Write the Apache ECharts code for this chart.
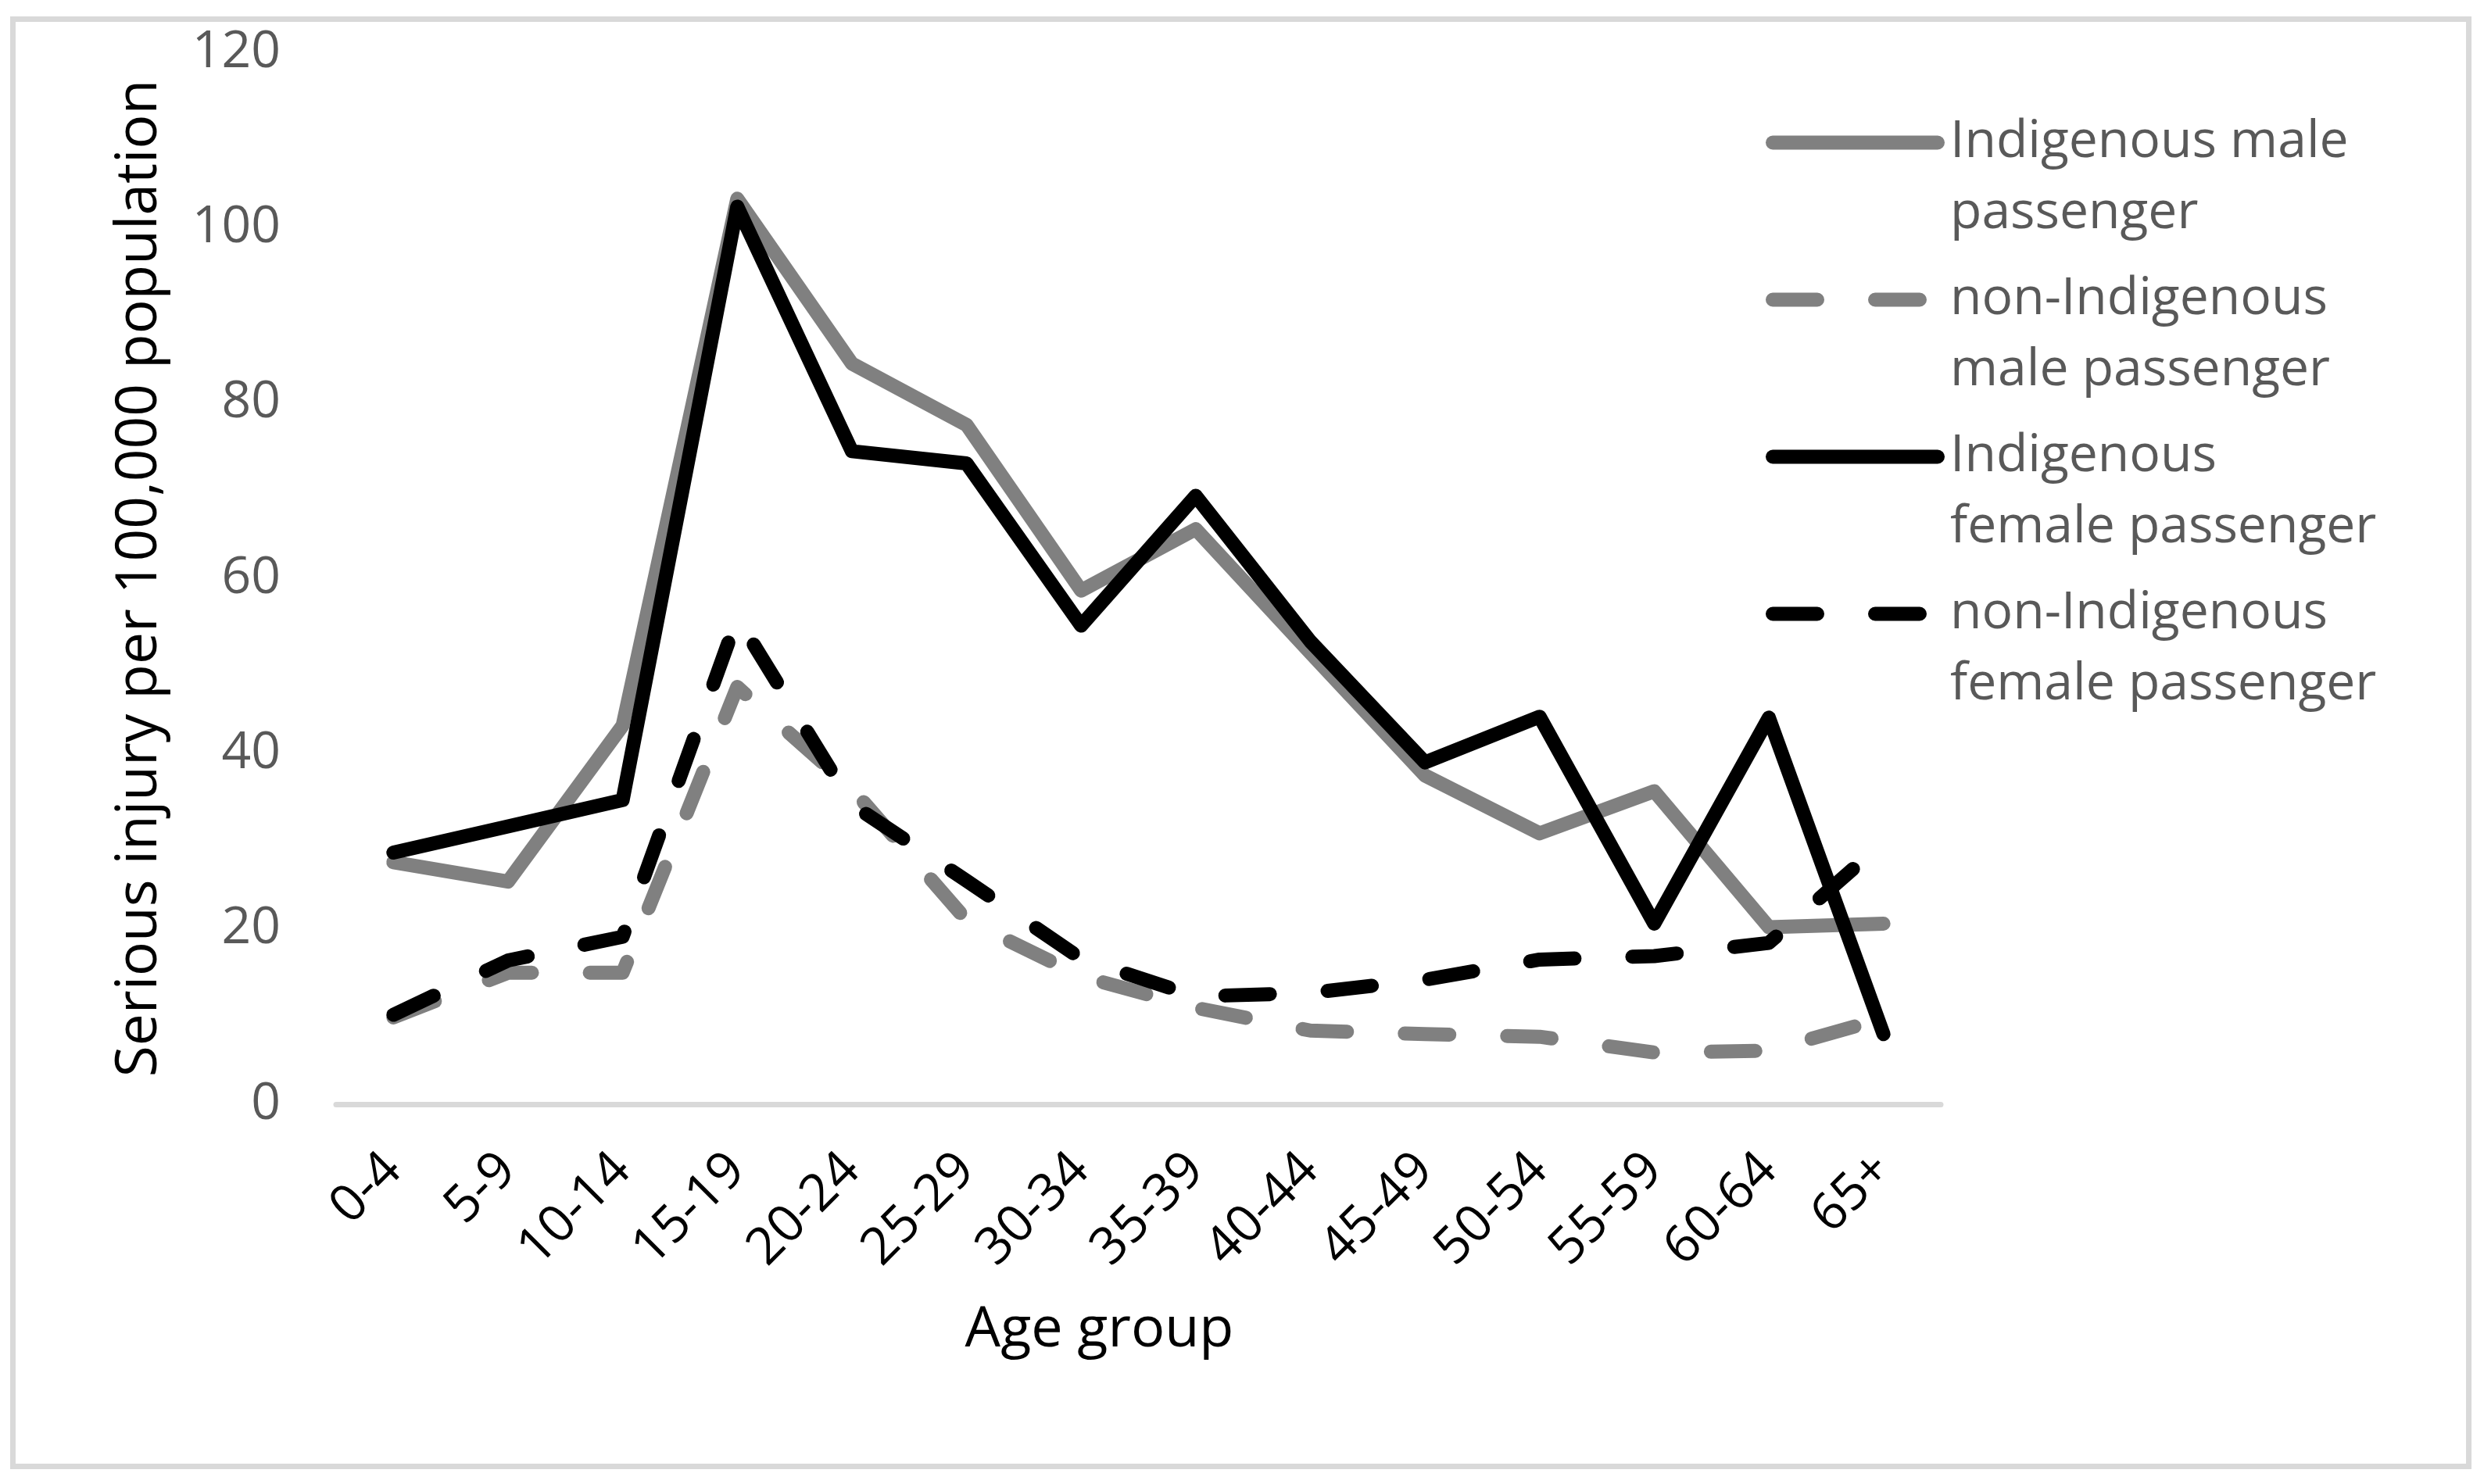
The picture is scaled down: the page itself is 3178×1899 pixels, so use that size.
<!DOCTYPE html>
<html>
<head>
<meta charset="utf-8">
<script src="https://cdn.jsdelivr.net/npm/echarts@6/dist/echarts.min.js"></script>
<style>
  html, body { margin: 0; padding: 0; background: #ffffff; }
  #frame { position: absolute; left: 13px; top: 21px; width: 3149px; height: 1859px; border: 7px solid #d9d9d9; box-sizing: border-box; pointer-events: none; }
  #chart { position: absolute; left: 0; top: 0; width: 3178px; height: 1899px; }
</style>
</head>
<body>
<div id="frame"></div>
<div id="chart"></div>
<script>
const categories = ['0-4', '5-9', '10-14', '15-19', '20-24', '25-29', '30-34', '35-39', '40-44', '45-49', '50-54', '55-59', '60-64', '65+'];
const indigenousMale = [27.6, 25.4, 43.2, 103.3, 84.5, 77.5, 58.6, 65.6, 51.5, 37.5, 30.9, 35.7, 20.2, 20.6];
const nonIndigenousMale = [9.9, 15, 15, 47.6, 36, 21, 14.6, 11, 8.4, 8.0, 7.7, 5.9, 6.1, 9.8];
const indigenousFemale = [28.7, 31.7, 34.7, 102.4, 74.5, 73.1, 54.6, 69.4, 52.8, 39.0, 44.2, 20.6, 44.1, 8.0];
const nonIndigenousFemale = [10.2, 16.4, 19.1, 55.5, 34.2, 25.5, 16.6, 12.3, 12.7, 14.2, 16.5, 16.9, 18.4, 29.9];
const seriesNames = ['Indigenous male\npassenger', 'non-Indigenous\nmale passenger', 'Indigenous\nfemale passenger', 'non-Indigenous\nfemale passenger'];
const yTicks = { min: 0, max: 120, interval: 20 };

const FONT = 'Open Sans';
const DASH = [57, 74];
const LW = 18;

function lineSeries(name, data, color, dashed) {
  return {
    name: name,
    type: 'line',
    data: data,
    symbol: 'none',
    smooth: false,
    lineStyle: { color: color, width: LW, type: dashed ? DASH : 'solid', cap: 'round', join: 'round' },
    itemStyle: { color: color },
    emphasis: { disabled: true }
  };
}

const chart = echarts.init(document.getElementById('chart'), null, { renderer: 'canvas' });
chart.setOption({
  animation: false,
  backgroundColor: 'transparent',
  grid: { left: 430, right: 695, top: 67, bottom: 486, containLabel: false },
  legend: {
    orient: 'vertical',
    left: 2259,
    top: 46,
    itemWidth: 211,
    itemHeight: 20,
    itemGap: -72,
    padding: 0,
    selectedMode: false,
    lineStyle: { width: LW, cap: 'round' },
    itemStyle: { color: 'rgba(0,0,0,0)', borderWidth: 0, opacity: 0 },
    formatter: function (name) { return '\n' + name; },
    textStyle: { fontFamily: FONT, fontSize: 66, color: '#595959', lineHeight: 91, padding: [0, 0, 0, 11] },
    data: seriesNames
  },
  xAxis: {
    type: 'category',
    data: categories,
    boundaryGap: true,
    name: 'Age group',
    nameLocation: 'middle',
    nameGap: 253,
    nameTextStyle: { fontFamily: FONT, fontSize: 72, color: '#000000', padding: [0, 100, 0, 0] },
    axisLine: { show: true, lineStyle: { color: '#d9d9d9', width: 7 } },
    axisTick: { show: false },
    axisLabel: { rotate: 45, margin: 74, fontFamily: FONT, fontSize: 66, color: '#000000', interval: 0 },
    splitLine: { show: false }
  },
  yAxis: {
    type: 'value',
    min: yTicks.min,
    max: yTicks.max,
    interval: yTicks.interval,
    name: 'Serious injury per 100,000 population',
    nameLocation: 'middle',
    nameGap: 214,
    nameTextStyle: { fontFamily: FONT, fontSize: 73, color: '#000000' },
    axisLine: { show: false },
    axisTick: { show: false },
    axisLabel: { margin: 71, fontFamily: FONT, fontSize: 66, color: '#595959' },
    splitLine: { show: false }
  },
  series: [
    lineSeries(seriesNames[0], indigenousMale, '#808080', false),
    lineSeries(seriesNames[1], nonIndigenousMale, '#808080', true),
    lineSeries(seriesNames[2], indigenousFemale, '#000000', false),
    lineSeries(seriesNames[3], nonIndigenousFemale, '#000000', true)
  ]
});
</script>
</body>
</html>
